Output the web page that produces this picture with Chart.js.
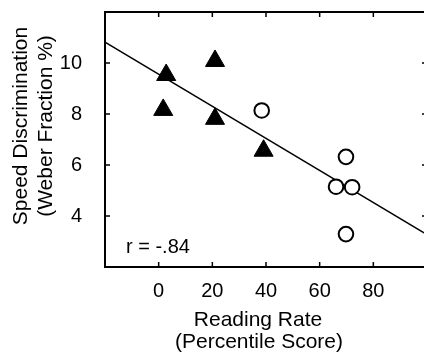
<!DOCTYPE html>
<html>
<head>
<meta charset="utf-8">
<script src="https://cdn.jsdelivr.net/npm/chart.js@4"></script>
<style>
  html, body { margin: 0; padding: 0; background: #fff; overflow: hidden; }
  #wrap { width: 424px; height: 355px; overflow: hidden; }
</style>
</head>
<body>
<div id="wrap"><canvas id="graphique" width="440" height="355"></canvas></div>
<script>
// Données
const poorX = [2.8, 21.0, 1.7, 21.0, 39.1]
const poorY = [9.53, 10.08, 8.16, 7.81, 6.56]
const goodX = [38.4, 69.8, 66.1, 72.1, 69.8]
const goodY = [8.14, 6.32, 5.15, 5.13, 3.29]
const fitX = [-20, 100]
const fitY = [10.82, 3.27]
const xTicks = [-20, 0, 20, 40, 60, 80, 100]
const yTicks = [2, 4, 6, 8, 10, 12]
const xLabels = ["0", "20", "40", "60", "80"]
const yLabels = ["4", "6", "8", "10"]
const xTitle = ["Reading Rate", "(Percentile Score)"]
const yTitle = ["Speed Discrimination", "(Weber Fraction %)"]
const rText = "r = -.84"

const police = "'Liberation Sans', Arial, Helvetica, sans-serif"

const toPoints = (xs, ys) => xs.map((x, i) => ({ x: x, y: ys[i] }))

// Cadre, graduations internes et textes
const cadre = {
    id: "cadre",
    afterDraw(chart) {
        const ctx = chart.ctx
        const a = chart.chartArea
        const sx = chart.scales.x
        const sy = chart.scales.y
        ctx.save()
        ctx.strokeStyle = "#000"
        ctx.lineWidth = 2
        ctx.strokeRect(a.left, a.top, a.right - a.left, a.bottom - a.top)
        ctx.lineWidth = 1.5
        ctx.beginPath()
        for (const v of xTicks) {
            const px = sx.getPixelForValue(v)
            ctx.moveTo(px, a.bottom); ctx.lineTo(px, a.bottom - 5)
            ctx.moveTo(px, a.top); ctx.lineTo(px, a.top + 5)
        }
        for (const v of yTicks) {
            const py = sy.getPixelForValue(v)
            ctx.moveTo(a.left, py); ctx.lineTo(a.left + 5, py)
            ctx.moveTo(a.right, py); ctx.lineTo(a.right - 5, py)
        }
        ctx.stroke()

        ctx.fillStyle = "#000"
        ctx.font = "20px " + police
        ctx.textAlign = "left"
        ctx.textBaseline = "alphabetic"
        ctx.fillText(rText, 126, 253)

        ctx.font = "21px " + police
        ctx.textAlign = "center"
        ctx.fillText(xTitle[0], 258, 326)
        ctx.fillText(xTitle[1], 259, 348)

        ctx.translate(27, 126)
        ctx.rotate(-Math.PI / 2)
        ctx.fillText(yTitle[0], 0, 0)
        ctx.fillText(yTitle[1], 0, 25)
        ctx.restore()
    }
}

const data = {
    datasets: [
        {
            type: "line",
            data: toPoints(fitX, fitY),
            borderColor: "#000",
            borderWidth: 1.5,
            pointRadius: 0,
            order: 3
        },
        {
            data: toPoints(poorX, poorY),
            pointStyle: "triangle",
            pointRadius: 11,
            backgroundColor: "#000",
            borderColor: "#000",
            borderWidth: 1,
            order: 1
        },
        {
            data: toPoints(goodX, goodY),
            pointStyle: "circle",
            pointRadius: 7.3,
            backgroundColor: "#fff",
            borderColor: "#000",
            borderWidth: 2,
            order: 2
        }
    ]
}

const config = {
    type: "scatter",
    data: data,
    plugins: [cadre],
    options: {
        responsive: false,
        animation: false,
        layout: { padding: { top: 11, right: 13, left: 0, bottom: 0 } },
        plugins: { legend: { display: false }, tooltip: { enabled: false } },
        scales: {
            x: {
                type: "linear",
                min: -20,
                max: 100,
                afterBuildTicks: scale => { scale.ticks = xTicks.map(v => ({ value: v })) },
                afterFit: scale => {
                    scale.height = 88
                    scale.paddingLeft = 0
                    scale.paddingRight = 0
                },
                grid: { display: false, drawTicks: false },
                border: { display: false },
                ticks: {
                    padding: 12,
                    color: "#000",
                    font: { family: police, size: 20 },
                    maxRotation: 0,
                    callback: v => xLabels.includes(String(v)) ? String(v) : ""
                }
            },
            y: {
                type: "linear",
                min: 2,
                max: 12,
                afterBuildTicks: scale => { scale.ticks = yTicks.map(v => ({ value: v })) },
                afterFit: scale => {
                    scale.width = 105
                    scale.paddingTop = 0
                    scale.paddingBottom = 0
                },
                grid: { display: false, drawTicks: false },
                border: { display: false },
                ticks: {
                    padding: 23,
                    color: "#000",
                    font: { family: police, size: 20 },
                    callback: v => yLabels.includes(String(v)) ? String(v) : ""
                }
            }
        }
    }
}

new Chart(document.querySelector("#graphique"), config)
</script>
</body>
</html>
